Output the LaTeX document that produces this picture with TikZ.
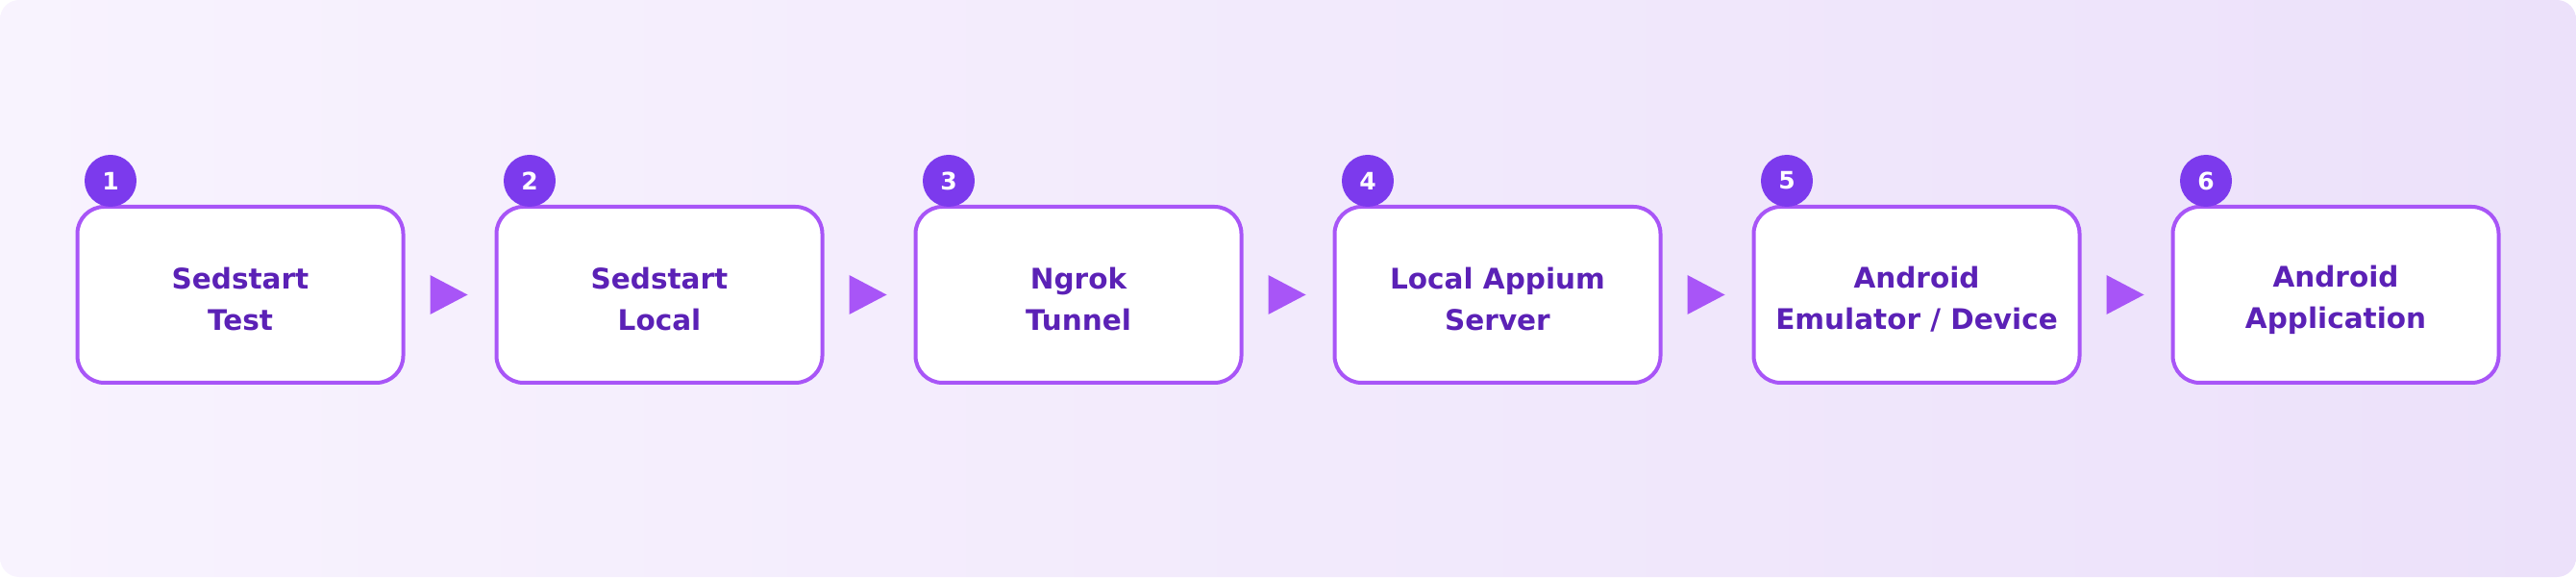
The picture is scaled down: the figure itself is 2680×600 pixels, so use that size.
\documentclass[tikz,border=0pt]{standalone}
\usepackage{fontspec}
\setmainfont{DejaVu Sans}
\usetikzlibrary{positioning}
\definecolor{boxline}{HTML}{A855F7}
\definecolor{boxtext}{HTML}{5B21B6}
\definecolor{badge}{HTML}{7C3AED}
\definecolor{bgleft}{HTML}{F8F3FE}
\definecolor{bgright}{HTML}{ECE1FA}

\begin{document}
\begin{tikzpicture}[x=1pt,y=1pt,
	stage/.style={rectangle,rounded corners=28pt,draw=boxline,line width=4pt,fill=white,
		minimum width=339pt,minimum height=183pt},
	stagetext/.style={text=boxtext,align=center,font={\fontsize{29.5}{43}\selectfont\bfseries}},
	num/.style={circle,fill=badge,text=white,minimum size=54pt,inner sep=0pt,
		font={\fontsize{25}{30}\selectfont\bfseries}}]
	\useasboundingbox (0,0) rectangle (2680,600);
	\shade[left color=bgleft,right color=bgright,rounded corners=20pt] (0,0) rectangle (2680,600); % 背景
	
	\foreach \i/\name in {1/{Sedstart\\Test},2/{Sedstart\\Local},3/{Ngrok\\Tunnel},
		4/{Local Appium\\Server},5/{Android\\Emulator / Device},6/{Android\\Application}}{
		\node[stage] (b\i) at (250+436*\i-436,293.5){};
		\node[stagetext] (t\i) at ([yshift=-5pt]b\i.center){\name};
		\node[num] (n\i) at (115+436*\i-436,412){\i};
	}
	
	\foreach \i in {1,2,3,4,5}{
		\fill[boxline] ([xshift=26pt,yshift=20.5pt]b\i.east) -- ++(39,-20.5) -- ++(-39,-20.5) -- cycle;} % 箭头
\end{tikzpicture}
\end{document}
